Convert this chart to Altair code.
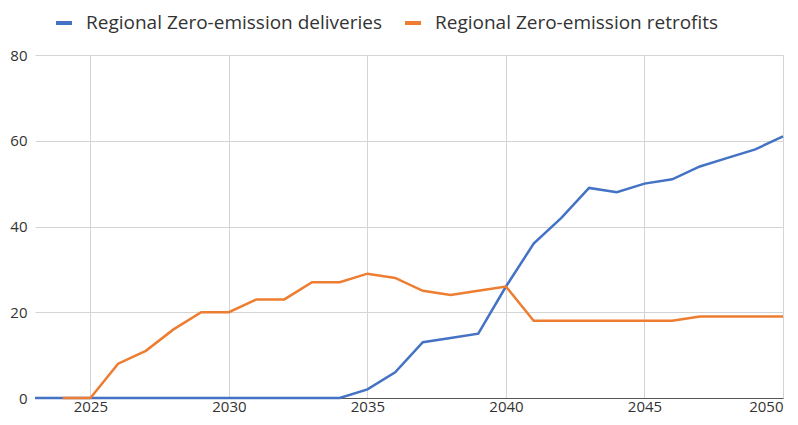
import altair as alt
import pandas as pd

years_del = list(range(2023, 2051))
deliveries = [0, 0, 0, 0, 0, 0, 0, 0, 0, 0, 0, 0, 2, 6, 13, 14, 15, 26, 36, 42, 49, 48, 50, 51, 54, 56, 58, 61]
years_ret = list(range(2024, 2051))
retrofits = [0, 0, 8, 11, 16, 20, 20, 23, 23, 27, 27, 29, 28, 25, 24, 25, 26, 18, 18, 18, 18, 18, 18, 19, 19, 19, 19]

s1 = "Regional Zero-emission deliveries"
s2 = "Regional Zero-emission retrofits"

df = pd.concat([
    pd.DataFrame({"year": years_del, "value": deliveries, "series": s1}),
    pd.DataFrame({"year": years_ret, "value": retrofits, "series": s2}),
])

FONT = "Open Sans"

chart = alt.Chart(df).mark_line(strokeWidth=2.5).encode(
    x=alt.X("year:Q", scale=alt.Scale(domain=[2023, 2050], nice=False, zero=False),
            axis=alt.Axis(values=[2025, 2030, 2035, 2040, 2045, 2050], format="d", title=None,
                          grid=True, gridColor="#d4d4d4", ticks=False, domainColor="#555555",
                          labelFontSize=15, labelColor="#333333", labelPadding=1, labelFont=FONT)),
    y=alt.Y("value:Q", scale=alt.Scale(domain=[0, 80], nice=False),
            axis=alt.Axis(values=[0, 20, 40, 60, 80], title=None, grid=True, gridColor="#d4d4d4",
                          ticks=False, domain=False, labelFontSize=15, labelColor="#333333",
                          labelPadding=8, labelFont=FONT)),
    color=alt.Color("series:N", sort=[s1, s2],
                    scale=alt.Scale(domain=[s1, s2], range=["#4472C4", "#ED7D31"]),
                    legend=alt.Legend(title=None, orient="none", direction="horizontal",
                                      legendX=19, legendY=-42,
                                      symbolType="stroke", symbolSize=256, symbolStrokeWidth=4,
                                      labelFontSize=19, labelColor="#333333", labelFont=FONT,
                                      labelLimit=0, columnPadding=14, labelOffset=12)),
).properties(
    width=748, height=343,
    padding={"left": 27, "top": 47, "right": 7, "bottom": 19},
    autosize=alt.AutoSizeParams(type="none"),
).configure_view(stroke=None)

chart.save("out.html", embed_options={"renderer": "svg", "actions": False})
